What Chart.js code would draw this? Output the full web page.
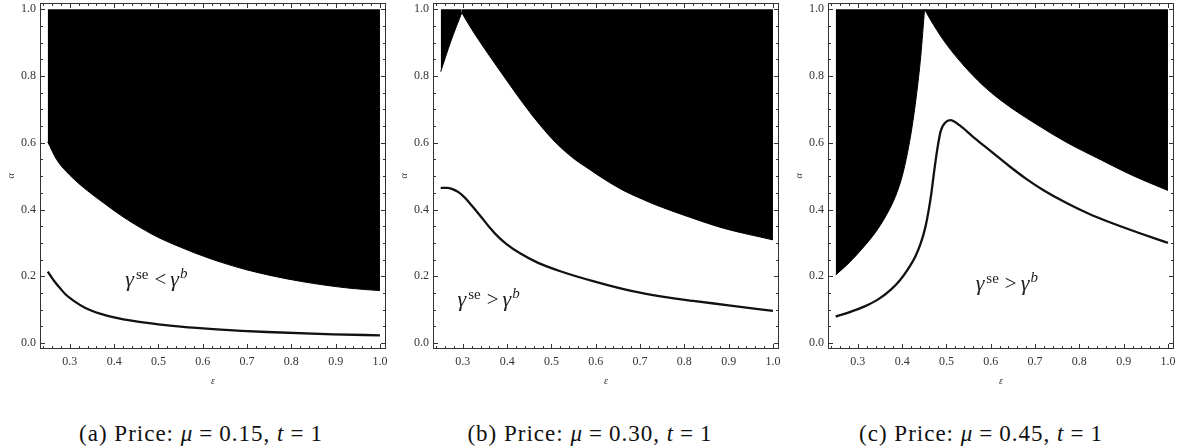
<!DOCTYPE html>
<html>
<head>
<meta charset="utf-8">
<script src="https://cdn.jsdelivr.net/npm/chart.js@4.4.1/dist/chart.umd.min.js"></script>
<style>
  html, body { margin:0; padding:0; background:#fff; }
  body { width:1180px; height:447px; position:relative; overflow:hidden; }
  canvas.panel { position:absolute; top:0; }
  .cap { position:absolute; top:421px; font-family:"Liberation Serif", "DejaVu Serif", serif; font-size:23px; color:#111;
         white-space:nowrap; transform:translateX(-50%); line-height:26px; letter-spacing:1px; }
  .cap i { font-style:italic; }
  .cap .eq { margin:0 6px; }
</style>
</head>
<body>
<canvas id="pa" class="panel" width="393" height="400" style="left:0px"></canvas>
<canvas id="pb" class="panel" width="393" height="400" style="left:393px"></canvas>
<canvas id="pc" class="panel" width="393" height="400" style="left:788px"></canvas>
<div class="cap" id="cap0" style="left:201px"></div>
<div class="cap" id="cap1" style="left:590px"></div>
<div class="cap" id="cap2" style="left:981px"></div>
<script>
// ---------- data ----------
const xTickValues = [0.3, 0.4, 0.5, 0.6, 0.7, 0.8, 0.9, 1.0];
const yTickValues = [0.0, 0.2, 0.4, 0.6, 0.8, 1.0];
const xMinorTicks = [0.24, 0.26, 0.28, 0.32, 0.34, 0.36, 0.38, 0.42, 0.44, 0.46, 0.48,
                     0.52, 0.54, 0.56, 0.58, 0.62, 0.64, 0.66, 0.68, 0.72, 0.74, 0.76, 0.78,
                     0.82, 0.84, 0.86, 0.88, 0.92, 0.94, 0.96, 0.98];
const yMinorTicks = [0.05, 0.1, 0.15, 0.25, 0.3, 0.35, 0.45, 0.5, 0.55, 0.65, 0.7, 0.75, 0.85, 0.9, 0.95];

// panel (a) mu = 0.15
const aRegionX = [0.25, 0.27, 0.30, 0.34, 0.38, 0.42, 0.46, 0.50, 0.55, 0.61, 0.70, 0.82, 0.933, 1.0];
const aRegionY = [0.603, 0.55, 0.503, 0.456, 0.416, 0.378, 0.345, 0.316, 0.287, 0.256, 0.219, 0.185, 0.164, 0.157];
const aCurveX = [0.25, 0.265, 0.278, 0.29, 0.308, 0.335, 0.368, 0.40, 0.443, 0.50, 0.55, 0.632, 0.745, 0.895, 1.0];
const aCurveY = [0.214, 0.185, 0.164, 0.146, 0.127, 0.105, 0.088, 0.077, 0.066, 0.056, 0.049, 0.041, 0.033, 0.026, 0.023];

// panel (b) mu = 0.30
const bRegionLeftX = [0.25, 0.2725, 0.2975];
const bRegionLeftY = [0.813, 0.903, 0.99];
const bRegionRightX = [0.2975, 0.32, 0.35, 0.40, 0.435, 0.473, 0.51, 0.548, 0.586, 0.62, 0.661, 0.70, 0.737, 0.812, 0.888, 1.0];
const bRegionRightY = [0.99, 0.94, 0.88, 0.785, 0.72, 0.655, 0.60, 0.555, 0.52, 0.49, 0.458, 0.434, 0.413, 0.377, 0.344, 0.309];
const bCurveX = [0.25, 0.265, 0.275, 0.29, 0.305, 0.32, 0.34, 0.36, 0.38, 0.40, 0.43, 0.47, 0.52, 0.60, 0.68, 0.75, 0.82, 0.90, 1.0];
const bCurveY = [0.465, 0.465, 0.462, 0.452, 0.435, 0.412, 0.38, 0.347, 0.318, 0.295, 0.268, 0.24, 0.215, 0.183, 0.156, 0.139, 0.126, 0.113, 0.096];

// panel (c) mu = 0.45
const cRegionLeftX = [0.25, 0.28, 0.31, 0.34, 0.365, 0.385, 0.40, 0.412, 0.422, 0.432, 0.442, 0.4506];
const cRegionLeftY = [0.204, 0.24, 0.283, 0.332, 0.385, 0.44, 0.50, 0.57, 0.645, 0.74, 0.86, 1.0];
const cRegionRightX = [0.4506, 0.47, 0.50, 0.54, 0.58, 0.62, 0.66, 0.70, 0.77, 0.85, 0.92, 1.0];
const cRegionRightY = [1.0, 0.955, 0.895, 0.83, 0.775, 0.73, 0.692, 0.658, 0.602, 0.548, 0.502, 0.457];
const cCurveX = [0.25, 0.28, 0.314, 0.345, 0.374, 0.395, 0.412, 0.43, 0.442, 0.452, 0.46, 0.466, 0.4716, 0.479, 0.487,
                 0.497, 0.509, 0.53, 0.56, 0.60, 0.64, 0.68, 0.72, 0.77, 0.82, 0.87, 0.93, 1.0];
const cCurveY = [0.079, 0.092, 0.109, 0.13, 0.159, 0.188, 0.219, 0.26, 0.299, 0.345, 0.399, 0.45, 0.508, 0.578, 0.635,
                 0.66, 0.668, 0.652, 0.618, 0.575, 0.532, 0.492, 0.457, 0.42, 0.388, 0.361, 0.332, 0.30];

// annotations and captions
const noteX = [0.425, 0.288, 0.566];
const noteY = [0.171, 0.111, 0.158];
const noteOps = ['<', '>', '>'];
const capLetters = ['a', 'b', 'c'];
const capMu = ['0.15', '0.30', '0.45'];
const capT = ['1', '1', '1'];
const xAxisTitle = 'ε';
const yAxisTitle = 'α';

// ---------- helpers ----------
const pts = (xs, ys) => xs.map((x, i) => ({ x: x, y: ys[i] }));
const SERIF = '"Liberation Serif", "DejaVu Serif", serif';

function region(xs, ys) {
  return {
    data: pts(xs, ys), fill: { value: 1.0 }, backgroundColor: '#000', borderColor: '#000',
    borderWidth: 1, pointRadius: 0, cubicInterpolationMode: 'monotone'
  };
}
function curve(xs, ys) {
  return {
    data: pts(xs, ys), fill: false, borderColor: '#111', borderWidth: 2.3,
    pointRadius: 0, cubicInterpolationMode: 'monotone'
  };
}

const framePlugin = {
  id: 'frameNotes',
  afterDatasetsDraw(chart, args, opts) {
    const ctx = chart.ctx, a = chart.chartArea;
    const sx = chart.scales.x, sy = chart.scales.y;
    ctx.save();
    ctx.strokeStyle = '#333';
    ctx.lineWidth = 1;
    ctx.strokeRect(Math.round(a.left) + 0.5, Math.round(a.top) + 0.5,
                   Math.round(a.right - a.left) - 1, Math.round(a.bottom - a.top) - 1);
    ctx.beginPath();
    const tickX = (v, len) => {
      const p = Math.round(sx.getPixelForValue(v)) + 0.5;
      ctx.moveTo(p, a.bottom); ctx.lineTo(p, a.bottom - len);
      ctx.moveTo(p, a.top); ctx.lineTo(p, a.top + len);
    };
    const tickY = (v, len) => {
      const p = Math.round(sy.getPixelForValue(v)) + 0.5;
      ctx.moveTo(a.left, p); ctx.lineTo(a.left + len, p);
      ctx.moveTo(a.right, p); ctx.lineTo(a.right - len, p);
    };
    xTickValues.forEach(v => tickX(v, 5));
    xMinorTicks.forEach(v => tickX(v, 3));
    yTickValues.forEach(v => tickY(v, 5));
    yMinorTicks.forEach(v => tickY(v, 3));
    ctx.stroke();

    // annotation  gamma^se op gamma^b
    let x = sx.getPixelForValue(opts.nx);
    const y = sy.getPixelForValue(opts.ny);
    ctx.fillStyle = '#222';
    ctx.textBaseline = 'alphabetic';
    ctx.textAlign = 'left';
    const put = (txt, font, dy, gapAfter) => {
      ctx.font = font;
      ctx.fillText(txt, x, y + dy);
      x += ctx.measureText(txt).width + gapAfter;
    };
    put('γ', 'italic 22px ' + SERIF, 0, 2);
    put('se', '15px ' + SERIF, -7, 6);
    put(opts.op, '21px ' + SERIF, 0, 4);
    put('γ', 'italic 22px ' + SERIF, 0, 1);
    put('b', 'italic 15px ' + SERIF, -8, 0);
    ctx.restore();
  }
};

function makePanel(id, datasets, idx) {
  new Chart(document.getElementById(id), {
    type: 'line',
    data: { datasets: datasets },
    plugins: [framePlugin],
    options: {
      responsive: false,
      animation: false,
      events: [],
      layout: { padding: { left: 0, right: 7, top: 3, bottom: 0 } },
      plugins: {
        legend: { display: false },
        tooltip: { enabled: false },
        frameNotes: { nx: noteX[idx], ny: noteY[idx], op: noteOps[idx] }
      },
      scales: {
        x: {
          type: 'linear', min: 0.2326, max: 1.0136,
          afterBuildTicks: s => { s.ticks = xTickValues.map(v => ({ value: v })); },
          afterFit: s => { s.height = 51; s.paddingLeft = 0; s.paddingRight = 0; },
          grid: { display: false, drawTicks: false },
          border: { display: false },
          ticks: { callback: v => Number(v).toFixed(1), autoSkip: false, maxRotation: 0,
                   padding: 6, color: '#333', font: { family: SERIF, size: 12 } },
          title: { display: true, text: xAxisTitle, color: '#333',
                   font: { family: SERIF, size: 10, style: 'italic' }, padding: { top: 0, bottom: 13 } }
        },
        y: {
          type: 'linear', min: -0.018, max: 1.0189,
          afterBuildTicks: s => { s.ticks = yTickValues.map(v => ({ value: v })); },
          afterFit: s => { s.width = 40; s.paddingTop = 0; s.paddingBottom = 0; },
          grid: { display: false, drawTicks: false },
          border: { display: false },
          ticks: { callback: v => Number(v).toFixed(1), autoSkip: false,
                   padding: 4, color: '#333', font: { family: SERIF, size: 12 } },
          title: { display: true, text: yAxisTitle, color: '#333',
                   font: { family: SERIF, size: 10, style: 'italic' }, padding: { top: 5, bottom: 0 } }
        }
      }
    }
  });
}

makePanel('pa', [region(aRegionX, aRegionY), curve(aCurveX, aCurveY)], 0);
makePanel('pb', [region(bRegionLeftX, bRegionLeftY), region(bRegionRightX, bRegionRightY),
                 curve(bCurveX, bCurveY)], 1);
makePanel('pc', [region(cRegionLeftX, cRegionLeftY), region(cRegionRightX, cRegionRightY),
                 curve(cCurveX, cCurveY)], 2);

capLetters.forEach((l, i) => {
  document.getElementById('cap' + i).innerHTML =
    '(' + l + ') Price: <i>μ</i><span class="eq">=</span>' + capMu[i] +
    ', <i>t</i><span class="eq">=</span>' + capT[i];
});
</script>
</body>
</html>
